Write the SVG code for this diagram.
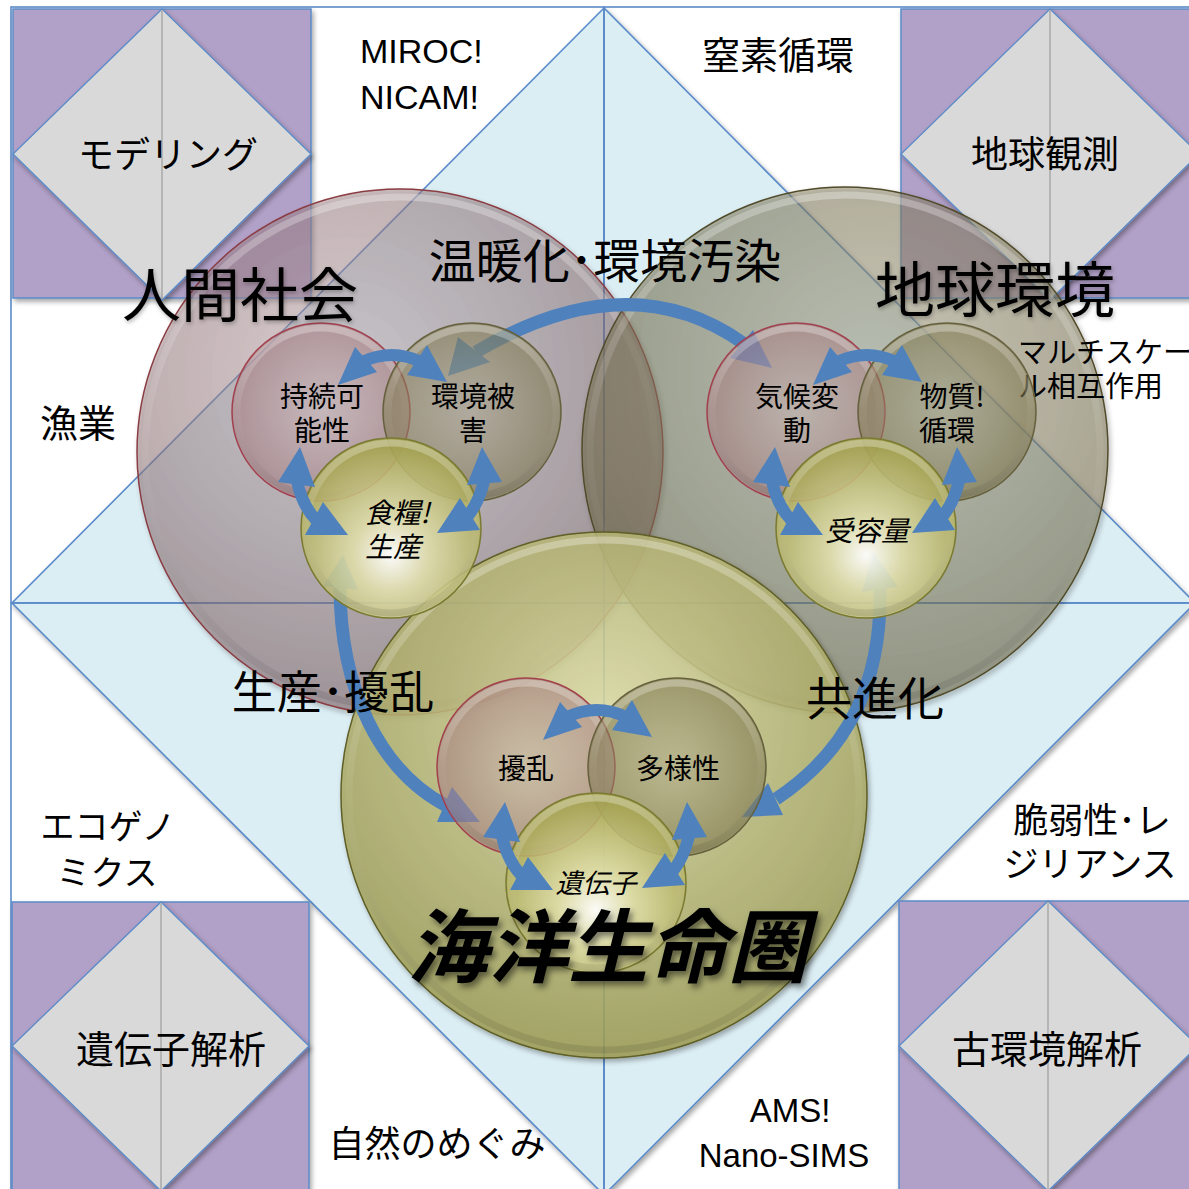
<svg xmlns="http://www.w3.org/2000/svg" xmlns:xlink="http://www.w3.org/1999/xlink" width="1189" height="1189" viewBox="0 0 1189 1189">
<defs>
<style>
text{font-family:"Noto Sans CJK JP","Liberation Sans",sans-serif;fill:#000;text-anchor:middle}
.lat{font-family:"Liberation Sans","Noto Sans CJK JP",sans-serif}
.line{stroke:#5b8bc9;stroke-width:1.6;fill:none}
.tri{fill:#dbeef4;stroke:#5b8bc9;stroke-width:1.6}
.purple{fill:#b1a0c7;stroke:#5b8bc9;stroke-width:1.5}
.diamond{fill:#d9d9d9;stroke:#5b8bc9;stroke-width:1.3}
.fold{stroke:#b5b5b5;stroke-width:2}
.pinkC{fill:url(#gPink);stroke:#a3404e;stroke-width:1.5}
.greyC{fill:url(#gGrey);stroke:#65603e;stroke-width:1.5}
.yelC{fill:url(#gYel);stroke:#7a7a32;stroke-width:1.5}
.rim{fill:none;stroke:url(#gRim);stroke-width:7}
.band{fill:none;stroke:#4f81bd;stroke-linecap:butt}
.head{fill:#4f81bd}
.it{font-style:italic}
</style>
<filter id="sh" x="-10%" y="-10%" width="130%" height="130%">
<feDropShadow dx="2" dy="3" stdDeviation="2.5" flood-color="#000" flood-opacity="0.35"/>
</filter>
<filter id="tsh" x="-10%" y="-20%" width="130%" height="150%">
<feDropShadow dx="3" dy="4" stdDeviation="3" flood-color="#000" flood-opacity="0.5"/>
</filter>
<filter id="tglow" x="-10%" y="-20%" width="130%" height="150%">
<feDropShadow dx="1" dy="2" stdDeviation="2" flood-color="#000" flood-opacity="0.3"/>
</filter>
<radialGradient id="gHuman" cx="40%" cy="35%" r="70%">
<stop offset="0" stop-color="#c0a6aa" stop-opacity="0.42"/>
<stop offset="1" stop-color="#78565a" stop-opacity="0.52"/>
</radialGradient>
<radialGradient id="gEarth" cx="55%" cy="35%" r="70%">
<stop offset="0" stop-color="#a49e80" stop-opacity="0.45"/>
<stop offset="1" stop-color="#6a6240" stop-opacity="0.56"/>
</radialGradient>
<radialGradient id="gOcean" cx="50%" cy="35%" r="65%">
<stop offset="0" stop-color="#e0dea6" stop-opacity="0.85"/>
<stop offset="0.5" stop-color="#bdbb7a" stop-opacity="0.82"/>
<stop offset="1" stop-color="#9e9d55" stop-opacity="0.85"/>
</radialGradient>
<radialGradient id="gPink" cx="50%" cy="50%" r="55%">
<stop offset="0" stop-color="#c8b0b2" stop-opacity="0.5"/>
<stop offset="1" stop-color="#a07478" stop-opacity="0.6"/>
</radialGradient>
<radialGradient id="gGrey" cx="50%" cy="50%" r="55%">
<stop offset="0" stop-color="#a8a286" stop-opacity="0.5"/>
<stop offset="1" stop-color="#7a7248" stop-opacity="0.62"/>
</radialGradient>
<radialGradient id="gYel" cx="50%" cy="65%" r="60%">
<stop offset="0" stop-color="#ffffff" stop-opacity="0.95"/>
<stop offset="0.35" stop-color="#e2e0aa" stop-opacity="0.85"/>
<stop offset="1" stop-color="#a6a450" stop-opacity="0.88"/>
</radialGradient>
<linearGradient id="gRim" x1="0" y1="0" x2="0" y2="1">
<stop offset="0" stop-color="#fff" stop-opacity="0.3"/>
<stop offset="0.5" stop-color="#fff" stop-opacity="0.05"/>
<stop offset="1" stop-color="#000" stop-opacity="0.1"/>
</linearGradient>
<g id="smallArrows">
<path class="band" stroke-width="12" d="M362,362 Q392,348 421,362"/>
<polygon class="head" points="355,347 338,385 377,372"/>
<polygon class="head" points="427,345 447,382 407,375"/>
<path class="band" stroke-width="12" d="M297,481 Q302,505 316,520"/>
<polygon class="head" points="300,447 278,482 315,487"/>
<polygon class="head" points="323,502 305,535 348,535"/>
<path class="band" stroke-width="12" d="M484,481 Q479,502 468,516"/>
<polygon class="head" points="482,447 467,485 502,482"/>
<polygon class="head" points="460,498 480,530 437,533"/>
</g>
</defs>

<rect width="1189" height="1189" fill="#fff"/>

<g id="background">
<g filter="url(#sh)">
<polygon class="tri" points="604,8 12,603 604,603"/>
<polygon class="tri" points="604,8 604,603 1195,603"/>
<polygon class="tri" points="12,603 604,603 604,1195"/>
<polygon class="tri" points="604,603 1195,603 604,1195"/>
</g>
<rect class="line" x="11" y="7" width="1200" height="1200"/>
<line class="line" x1="604" y1="7" x2="604" y2="1189"/>
<line class="line" x1="11" y1="603" x2="1189" y2="603"/>
</g>

<g id="node-modeling">
<rect class="purple" x="13" y="9" width="298" height="289" filter="url(#sh)"/>
<polygon class="diamond" points="162,9 311,154 162,300 13,154" filter="url(#sh)"/>
<line class="fold" x1="162" y1="10" x2="162" y2="299"/>
<text x="168" y="168" font-size="36">モデリング</text>
</g>
<g id="node-observation">
<rect class="purple" x="901" y="9" width="300" height="289" filter="url(#sh)"/>
<polygon class="diamond" points="1050,9 1199,154 1050,300 901,154" filter="url(#sh)"/>
<line class="fold" x1="1050" y1="10" x2="1050" y2="299"/>
<text x="1045" y="168" font-size="37">地球観測</text>
</g>
<g id="node-genetic">
<rect class="purple" x="12" y="902" width="297" height="300" filter="url(#sh)"/>
<polygon class="diamond" points="161,902 309,1046 161,1191 12,1046" filter="url(#sh)"/>
<line class="fold" x1="161" y1="903" x2="161" y2="1189"/>
<text x="171" y="1063" font-size="38">遺伝子解析</text>
</g>
<g id="node-paleo">
<rect class="purple" x="899" y="901" width="300" height="300" filter="url(#sh)"/>
<polygon class="diamond" points="1048,901 1198,1046 1048,1191 899,1046" filter="url(#sh)"/>
<line class="fold" x1="1048" y1="902" x2="1048" y2="1189"/>
<text x="1047" y="1063" font-size="38">古環境解析</text>
</g>

<g id="node-human-society">
<circle cx="400" cy="452" r="263" fill="url(#gHuman)" stroke="#8a3c42" stroke-width="1.5" filter="url(#sh)"/>
<circle class="rim" cx="400" cy="452" r="255"/>
</g>
<g id="node-earth-environment">
<circle cx="845" cy="450" r="263" fill="url(#gEarth)" stroke="#514b2a" stroke-width="1.5" filter="url(#sh)"/>
<circle class="rim" cx="845" cy="450" r="255"/>
</g>
<g id="node-ocean-biosphere">
<circle cx="604" cy="795" r="263" fill="url(#gOcean)" stroke="#5e5e26" stroke-width="1.5" filter="url(#sh)"/>
<circle class="rim" cx="604" cy="795" r="255"/>
</g>

<g id="labels-outer">
<text class="lat" x="360" y="63" font-size="34" style="text-anchor:start">MIROC!</text>
<text class="lat" x="360" y="109" font-size="34" style="text-anchor:start">NICAM!</text>
<text x="778" y="69" font-size="38">窒素循環</text>
<text x="78" y="437" font-size="38">漁業</text>
<text x="1018" y="363" font-size="29" style="text-anchor:start">マルチスケー</text>
<text x="1018" y="397" font-size="29" style="text-anchor:start">ル相互作用</text>
<text x="108" y="839" font-size="34">エコゲノ</text>
<text x="107" y="885" font-size="34">ミクス</text>
<text x="1092" y="833" font-size="35">脆弱性･レ</text>
<text x="1090" y="877" font-size="35">ジリアンス</text>
<text x="437" y="1157" font-size="36">自然のめぐみ</text>
<text class="lat" x="790" y="1122" font-size="33">AMS!</text>
<text class="lat" x="784" y="1167" font-size="33">Nano-SIMS</text>
</g>

<g id="connectors-major">
<path class="band" stroke-width="13" d="M476,352 Q628,262 743,343"/>
<polygon class="head" points="448,376 458,337 490,362"/>
<polygon class="head" points="772,368 753,330 730,358"/>
<path class="band" stroke-width="13" d="M340,586 C340,690 380,770 445,805"/>
<polygon class="head" points="343,555 323,586 358,590"/>
<polygon class="head" points="480,822 452,787 437,822"/>
<path class="band" stroke-width="13" d="M880,588 C882,680 850,750 776,799"/>
<polygon class="head" points="873,552 862,592 898,587"/>
<polygon class="head" points="742,817 768,783 783,815"/>
</g>

<g id="node-sustainability"><circle class="pinkC" cx="321" cy="412" r="89"/><circle class="rim" cx="321" cy="412" r="84"/></g>
<g id="node-env-damage"><circle class="greyC" cx="472" cy="412" r="89"/><circle class="rim" cx="472" cy="412" r="84"/></g>
<g id="node-food"><circle class="yelC" cx="391" cy="528" r="90"/><circle class="rim" cx="391" cy="528" r="85"/></g>

<g id="node-climate"><circle class="pinkC" cx="796" cy="412" r="89"/><circle class="rim" cx="796" cy="412" r="84"/></g>
<g id="node-material"><circle class="greyC" cx="947" cy="412" r="89"/><circle class="rim" cx="947" cy="412" r="84"/></g>
<g id="node-capacity"><circle class="yelC" cx="866" cy="528" r="90"/><circle class="rim" cx="866" cy="528" r="85"/></g>

<g id="node-disturbance"><circle class="pinkC" cx="526" cy="767" r="89"/><circle class="rim" cx="526" cy="767" r="84"/></g>
<g id="node-diversity"><circle class="greyC" cx="677" cy="767" r="89"/><circle class="rim" cx="677" cy="767" r="84"/></g>
<g id="node-gene"><circle class="yelC" cx="596" cy="883" r="90"/><circle class="rim" cx="596" cy="883" r="85"/></g>

<g id="connectors-minor">
<use xlink:href="#smallArrows"/>
<use xlink:href="#smallArrows" transform="translate(475,0)"/>
<use xlink:href="#smallArrows" transform="translate(205,355)"/>
</g>

<g id="labels-inner">
<text x="322" y="407" font-size="28">持続可</text>
<text x="322" y="441" font-size="28">能性</text>
<text x="473" y="407" font-size="28">環境被</text>
<text x="473" y="441" font-size="28">害</text>
<text class="it" x="397" y="523" font-size="28">食糧!</text>
<text class="it" x="393" y="557" font-size="28">生産</text>
<text x="797" y="407" font-size="28">気候変</text>
<text x="797" y="441" font-size="28">動</text>
<text x="952" y="407" font-size="28">物質!</text>
<text x="947" y="441" font-size="28">循環</text>
<text class="it" x="867" y="541" font-size="28">受容量</text>
<text x="526" y="779" font-size="28">擾乱</text>
<text x="678" y="779" font-size="28">多様性</text>
<text class="it" x="596" y="893" font-size="27">遺伝子</text>
</g>

<g id="labels-major">
<text x="240" y="317" font-size="59" filter="url(#tglow)">人間社会</text>
<text x="995" y="312" font-size="60" filter="url(#tglow)">地球環境</text>
<text x="605" y="278" font-size="47">温暖化･環境汚染</text>
<text x="333" y="709" font-size="45">生産･擾乱</text>
<text x="875" y="715" font-size="46">共進化</text>
<text x="608" y="976" font-size="80" font-weight="bold" font-style="italic" filter="url(#tsh)">海洋生命圏</text>
</g>
</svg>
